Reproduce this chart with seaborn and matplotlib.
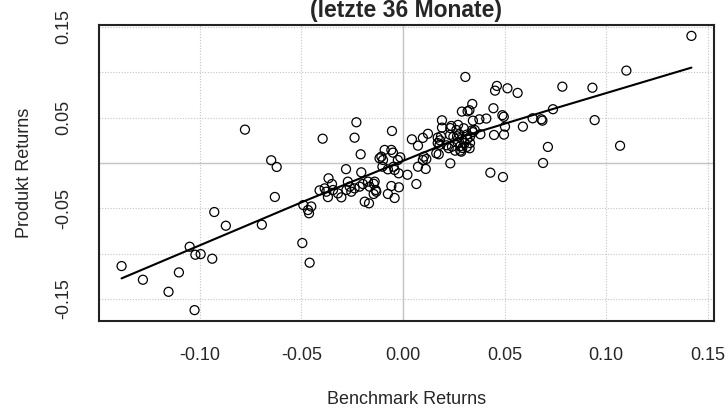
import numpy as np
import pandas as pd
import seaborn as sns
import matplotlib
matplotlib.use("Agg")
import matplotlib.pyplot as plt

# benchmark / product returns
bench = [-0.0777, -0.0648, -0.0621, -0.0630, -0.0928, -0.0871, -0.0694, -0.1049, -0.1021, -0.0995,
         -0.0938, -0.1384, -0.1279, -0.1102, -0.1153, -0.1025, -0.0495, -0.0459,
         -0.0490, -0.0467, -0.0462, -0.0451,
         -0.0229, -0.0238, -0.0395, -0.0208, -0.0280, -0.0205,
         -0.0366, -0.0349, -0.0385, -0.0410, -0.0377, -0.0344, -0.0369, -0.0320, -0.0303, -0.0271,
         -0.0262, -0.0278, -0.0254, -0.0238, -0.0213, -0.0197, -0.0172, -0.0164, -0.0139, -0.0131,
         -0.0144, -0.0188, -0.0167, -0.0134, -0.0144,
         -0.0090, -0.0106, -0.0098, -0.0115, -0.0101, -0.0074, -0.0054, -0.0057, -0.0049, -0.0013,
         -0.0025, -0.0046, -0.0041, -0.0021, 0.0022, 0.0074, 0.0112, 0.0103, 0.0115, 0.0098,
         0.0066, -0.0057, -0.0020, -0.0074, -0.0041, 0.0164, 0.0176,
         0.0044, 0.0098, 0.0123, 0.0074, 0.0192, 0.0192, 0.0238, 0.0233, 0.0263, 0.0271,
         0.0299, 0.0187, 0.0171, 0.0232, 0.0248, 0.0277, 0.0266, 0.0314, 0.0330, 0.0182,
         0.0171, 0.0180, 0.0214, 0.0225, 0.0241, 0.0269, 0.0282, 0.0292, 0.0257, 0.0282,
         0.0314, 0.0330, 0.0303, 0.0317, 0.0290, 0.0233, 0.0287, 0.0328,
         0.0307, 0.0341, 0.0327, 0.0318, 0.0290, 0.0344, 0.0376, 0.0410, 0.0381, 0.0340,
         0.0344, 0.0353, 0.0445, 0.0462, 0.0453, 0.0514, 0.0564, 0.0489, 0.0496, 0.0502,
         0.0497, 0.0448, 0.0430, 0.0492, 0.0590, 0.0638, 0.0681, 0.0686, 0.0738, 0.0713,
         0.0689, 0.0784, 0.0932, 0.0943, 0.1068, 0.1099, 0.1419]
produkt = [0.0368, 0.0030, -0.0044, -0.0375, -0.0541, -0.0692, -0.0681, -0.0924, -0.1012, -0.1005,
           -0.1056, -0.1137, -0.1288, -0.1207, -0.1421, -0.1623, -0.0883, -0.1100,
           -0.0464, -0.0519, -0.0555, -0.0480,
           0.0449, 0.0279, 0.0268, 0.0096, -0.0068, -0.0103,
           -0.0169, -0.0232, -0.0280, -0.0302, -0.0317, -0.0298, -0.0376, -0.0335, -0.0379, -0.0206,
           -0.0261, -0.0298, -0.0317, -0.0280, -0.0261, -0.0232, -0.0206, -0.0261, -0.0206, -0.0317,
           -0.0342, -0.0427, -0.0445, -0.0298, -0.0229,
           0.0144, 0.0070, 0.0033, 0.0052, -0.0041, -0.0070, 0.0353, 0.0144, 0.0114, 0.0063,
           0.0033, -0.0041, -0.0077, -0.0114, -0.0130, -0.0041, -0.0066, 0.0070, 0.0044, 0.0033,
           -0.0232, -0.0254, -0.0268, -0.0342, -0.0386, 0.0107, 0.0096,
           0.0261, 0.0277, 0.0322, 0.0191, 0.0471, 0.0390, 0.0408, 0.0385, 0.0364, 0.0420,
           0.0383, 0.0294, 0.0280, 0.0310, 0.0290, 0.0317, 0.0295, 0.0313, 0.0290, 0.0250,
           0.0220, 0.0200, 0.0195, 0.0163, 0.0180, 0.0226, 0.0185, 0.0166, 0.0136, 0.0136,
           0.0177, 0.0220, 0.0220, 0.0265, 0.0265, -0.0004, 0.0125, 0.0162,
           0.0949, 0.0651, 0.0582, 0.0570, 0.0567, 0.0467, 0.0482, 0.0490, 0.0317, 0.0360,
           0.0340, 0.0364, 0.0604, 0.0850, 0.0798, 0.0824, 0.0773, 0.0527, 0.0510, 0.0401,
           0.0313, 0.0309, -0.0107, -0.0155, 0.0401, 0.0493, 0.0482, 0.0467, 0.0593, 0.0177,
           0.0000, 0.0842, 0.0830, 0.0473, 0.0190, 0.1019, 0.1402]

# smoothed fit line, read at a few points
fit_x = [-0.1384, -0.0484, -0.0090, 0.0303, 0.0722, 0.1419]
fit_y = [-0.1273, -0.0420, -0.0059, 0.0298, 0.0585, 0.1052]

x_ticks = [-0.10, -0.05, 0.00, 0.05, 0.10, 0.15]
y_ticks = [-0.15, -0.10, -0.05, 0.00, 0.05, 0.10, 0.15]
y_labels = ["-0.15", "", "-0.05", "", "0.05", "", "0.15"]

df = pd.DataFrame({"bench": bench, "produkt": produkt})
fit = pd.DataFrame({"x": fit_x, "y": fit_y})

sns.set_style("white")
plt.rcParams["font.family"] = ["Liberation Sans", "DejaVu Sans"]

fig = plt.figure(figsize=(7.28, 4.12), dpi=100)
ax = fig.add_axes([99 / 728, 1 - 321 / 412, 615 / 728, 296 / 412])

ax.set_xlim(-0.1495, 0.153)
ax.set_ylim(-0.1743, 0.1522)
ax.set_xticks(x_ticks)
ax.set_xticklabels([f"{t:.2f}" for t in x_ticks])
ax.set_yticks(y_ticks)
ax.set_yticklabels(y_labels, rotation=90, va="center")

ax.grid(True, linestyle=(0, (1, 1.5)), color="#c4c4c4", linewidth=0.8)
ax.axvline(0, color="#c4c4c4", linewidth=1, zorder=0.5)
ax.axhline(0, color="#c4c4c4", linewidth=1, zorder=0.5)
ax.set_axisbelow(True)

sns.scatterplot(data=df, x="bench", y="produkt", ax=ax, s=42, marker="o",
                facecolor="none", edgecolor="black", linewidth=0.9, zorder=3)
sns.lineplot(data=fit, x="x", y="y", ax=ax, color="black", linewidth=1.5,
             estimator=None, sort=True, zorder=4)

for sp in ax.spines.values():
    sp.set_color("#222222")
    sp.set_linewidth(1.5)

ax.tick_params(axis="both", direction="out", length=8, width=1, color="#c4c4c4",
               labelsize=13, pad=11)
ax.set_xlabel("Benchmark Returns", fontsize=13, labelpad=19)
ax.set_ylabel("Produkt Returns", fontsize=13, labelpad=16)

fig.text(406 / 728, 1 - 16.5 / 412, "(letzte 36 Monate)", ha="center", va="baseline",
         fontsize=16.5, fontweight="bold")

fig.savefig("out.png", dpi=100)
